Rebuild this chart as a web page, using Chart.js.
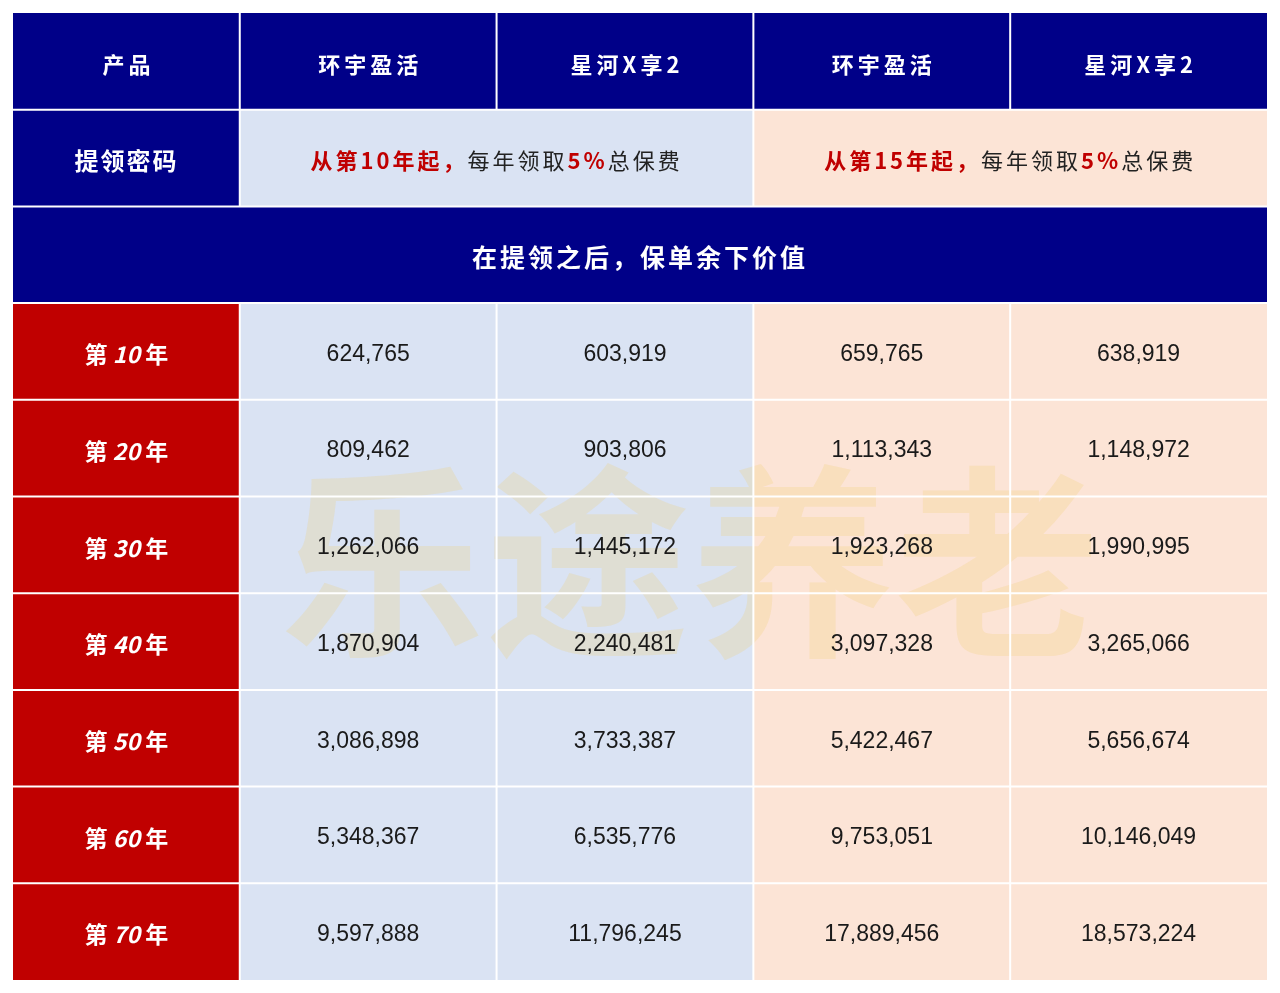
<!DOCTYPE html>
<html><head><meta charset="utf-8">
<script src="https://cdn.jsdelivr.net/npm/chart.js@4"></script>
<style>body{margin:0;background:#fff}</style>
</head><body>
<canvas id="c" width="1280" height="993"></canvas>
<script>
// --- DATA ---
const headers = ['产品', '环宇盈活', '星河X享2', '环宇盈活', '星河X享2'];
const planRow = ['提领密码', '从第10年起，|每年领取|5%|总保费', '从第15年起，|每年领取|5%|总保费'];
const sectionTitle = '在提领之后，保单余下价值';
const years = ['10', '20', '30', '40', '50', '60', '70'];
const huanyu10 = ['624,765', '809,462', '1,262,066', '1,870,904', '3,086,898', '5,348,367', '9,597,888'];
const xinghe10 = ['603,919', '903,806', '1,445,172', '2,240,481', '3,733,387', '6,535,776', '11,796,245'];
const huanyu15 = ['659,765', '1,113,343', '1,923,268', '3,097,328', '5,422,467', '9,753,051', '17,889,456'];
const xinghe15 = ['638,919', '1,148,972', '1,990,995', '3,265,066', '5,656,674', '10,146,049', '18,573,224'];
const colEdges = [0, 0.883, 1.883, 2.883, 3.883, 4.883];

const NAVY = '#000088', RED = '#C00000', BLUE = '#DAE3F3', PEACH = '#FCE4D6';
const FONT = '"Noto Sans CJK SC", "Noto Sans", sans-serif';
const DY = 3;

function drawSpaced(ctx, text, x, y, spacing) {
    ctx.letterSpacing = spacing + 'px';
    ctx.fillText(text, x, y);
    ctx.letterSpacing = '0px';
}

const tablePlugin = {
    id: 'table',
    afterDraw(chart) {
        const ctx = chart.ctx, xs = chart.scales.x, ys = chart.scales.y;
        const X = i => xs.getPixelForValue(colEdges[i]);
        const Y = r => ys.getPixelForValue(r);
        const cell = (c0, c1, r, color) => {
            ctx.fillStyle = color;
            ctx.fillRect(X(c0), Y(r), X(c1) - X(c0), Y(r + 1) - Y(r));
        };
        const cx = (c0, c1) => (X(c0) + X(c1)) / 2;
        const cy = r => (Y(r) + Y(r + 1)) / 2 + DY;
        ctx.save();
        ctx.textAlign = 'center';
        ctx.textBaseline = 'middle';

        // header
        headers.forEach((h, i) => {
            cell(i, i + 1, 0, NAVY);
            ctx.fillStyle = '#fff';
            ctx.font = 'bold 22px ' + FONT;
            drawSpaced(ctx, h, cx(i, i + 1) + 2, cy(0), 4);
        });

        // plan row
        cell(0, 1, 1, NAVY);
        cell(1, 3, 1, BLUE);
        cell(3, 5, 1, PEACH);
        ctx.fillStyle = '#fff';
        ctx.font = 'bold 24px ' + FONT;
        drawSpaced(ctx, planRow[0], cx(0, 1), cy(1), 2);
        [[1, 3, planRow[1]], [3, 5, planRow[2]]].forEach(([a, b, t]) => {
            const parts = t.split('|');
            const cols = [RED, '#222', RED, '#222'];
            ctx.letterSpacing = '3px';
            const widths = parts.map((p, i) => {
                ctx.font = (i % 2 === 0 ? 'bold ' : '') + '22px ' + FONT;
                return ctx.measureText(p).width;
            });
            const total = widths.reduce((s, w) => s + w, 0);
            let x = cx(a, b) - total / 2;
            ctx.textAlign = 'left';
            parts.forEach((p, i) => {
                ctx.fillStyle = cols[i];
                ctx.font = (i % 2 === 0 ? 'bold ' : '') + '22px ' + FONT;
                ctx.fillText(p, x, cy(1));
                x += widths[i];
            });
            ctx.letterSpacing = '0px';
            ctx.textAlign = 'center';
        });

        // section title
        cell(0, 5, 2, NAVY);
        ctx.fillStyle = '#fff';
        ctx.font = 'bold 25px ' + FONT;
        drawSpaced(ctx, sectionTitle, cx(0, 5), cy(2), 3);

        // watermark (under the numbers)
        const drawWatermark = () => {
            ctx.fillStyle = 'rgba(240, 205, 100, 0.22)';
            ctx.font = 'bold 205px ' + FONT;
            drawSpaced(ctx, '乐途养老', 690, 562, 0);
        };

        // data rows
        years.forEach((yr, k) => {
            const r = k + 3;
            cell(0, 1, r, RED);
            cell(1, 3, r, BLUE);
            cell(3, 5, r, PEACH);
        });
        drawWatermark();
        years.forEach((yr, k) => {
            const r = k + 3;
            ctx.fillStyle = '#fff';
            ctx.textAlign = 'left';
            const segs = [['bold ', '第 '], ['italic bold ', yr], ['bold ', ' 年']];
            const ws = segs.map(([f, s]) => { ctx.font = f + '23px ' + FONT; return ctx.measureText(s).width; });
            let x = cx(0, 1) - ws.reduce((s, w) => s + w, 0) / 2;
            segs.forEach(([f, s], i) => {
                ctx.font = f + '23px ' + FONT;
                ctx.fillText(s, x, cy(r));
                x += ws[i];
            });
            ctx.textAlign = 'center';
            ctx.fillStyle = '#1a1a1a';
            ctx.font = '23px "Liberation Sans", Arial, sans-serif';
            [huanyu10, xinghe10, huanyu15, xinghe15].forEach((s, i) => {
                ctx.fillText(s[k], cx(i + 1, i + 2), cy(r));
            });
        });

        // grid lines
        ctx.strokeStyle = '#fff';
        ctx.lineWidth = 2;
        ctx.beginPath();
        for (let r = 1; r < 10; r++) { ctx.moveTo(X(0), Y(r)); ctx.lineTo(X(5), Y(r)); }
        for (let i = 1; i < 5; i++) {
            ctx.moveTo(X(i), Y(0)); ctx.lineTo(X(i), Y(1));
            ctx.moveTo(X(i), Y(3)); ctx.lineTo(X(i), Y(10));
        }
        ctx.moveTo(X(1), Y(1)); ctx.lineTo(X(1), Y(2));
        ctx.moveTo(X(3), Y(1)); ctx.lineTo(X(3), Y(2));
        ctx.stroke();
        ctx.restore();
    }
};

new Chart(document.getElementById('c'), {
    type: 'scatter',
    data: { datasets: [{ data: [] }] },
    options: {
        responsive: false,
        animation: false,
        layout: { padding: { left: 13, right: 13, top: 13, bottom: 13 } },
        plugins: { legend: { display: false }, tooltip: { enabled: false } },
        scales: {
            x: { type: 'linear', min: 0, max: colEdges[5], display: false },
            y: { type: 'linear', min: 0, max: 10, reverse: true, display: false }
        }
    },
    plugins: [tablePlugin]
});
</script>
</body></html>
